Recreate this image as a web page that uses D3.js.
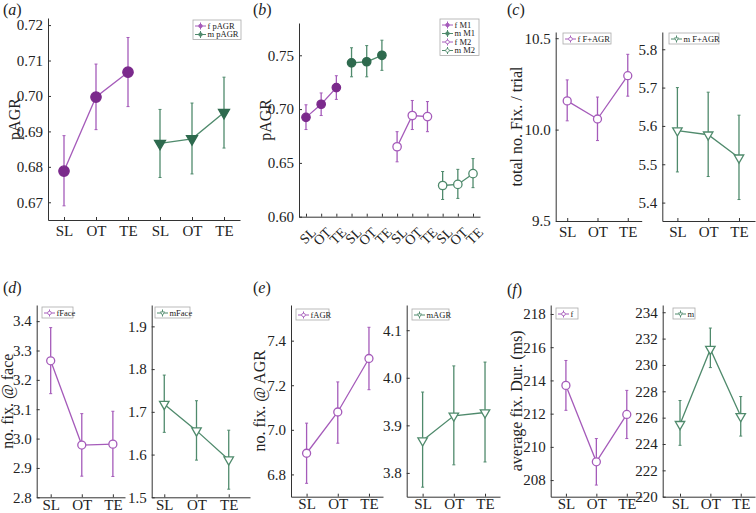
<!DOCTYPE html>
<html><head><meta charset="utf-8">
<script src="https://cdn.jsdelivr.net/npm/d3@7"></script>
<style>
body{margin:0;background:#fff}
svg text{font-family:"Liberation Serif","Times New Roman",Times,serif;fill:#222}
</style></head>
<body><svg id="c" width="756" height="513"></svg>
<script>
// ---------- DATA ----------
const conds = ["SL","OT","TE"];
// (a) pAGR
const aF_mean=[0.6788,0.6997,0.7067], aF_lo=[0.669,0.6905,0.697], aF_hi=[0.6888,0.709,0.7165];
const aM_mean=[0.6866,0.6879,0.6953], aM_lo=[0.677,0.678,0.6853], aM_hi=[0.6962,0.698,0.7053];
// (b) pAGR by M1/M2
const bF1_mean=[0.6923,0.7045,0.720], bF1_lo=[0.681,0.694,0.709], bF1_hi=[0.704,0.715,0.731];
const bM1_mean=[0.743,0.744,0.750], bM1_lo=[0.730,0.730,0.736], bM1_hi=[0.757,0.759,0.764];
const bF2_mean=[0.665,0.694,0.693], bF2_lo=[0.651,0.681,0.679], bF2_hi=[0.679,0.708,0.707];
const bM2_mean=[0.629,0.630,0.640], bM2_lo=[0.616,0.617,0.627], bM2_hi=[0.642,0.644,0.654];
// (c) total no. Fix. / trial
const cF_mean=[10.157,10.058,10.295], cF_lo=[10.048,9.94,10.183], cF_hi=[10.272,10.178,10.412];
const cM_mean=[5.588,5.577,5.517], cM_lo=[5.48,5.468,5.408], cM_hi=[5.70,5.688,5.628];
// (d) no. fix. @ face
const dF_mean=[3.265,2.978,2.981], dF_lo=[3.153,2.872,2.871], dF_hi=[3.378,3.085,3.093];
const dM_mean=[1.718,1.656,1.588], dM_lo=[1.652,1.587,1.519], dM_hi=[1.786,1.726,1.657];
// (e) no. fix. @ AGR
const eF_mean=[6.895,7.08,7.32], eF_lo=[6.76,6.94,7.18], eF_hi=[7.03,7.215,7.46];
const eM_mean=[3.868,3.92,3.927], eM_lo=[3.77,3.817,3.823], eM_hi=[3.97,4.025,4.033];
// (f) average fix. Dur. (ms)
const fF_mean=[213.7,209.1,211.95], fF_lo=[212.2,207.7,210.5], fF_hi=[215.2,210.5,213.4];
const fM_mean=[225.5,231.2,226.1], fM_lo=[223.9,229.8,224.6], fM_hi=[227.3,232.8,227.6];
// tick values
const ticksA=[0.67,0.68,0.69,0.70,0.71,0.72];
const ticksB=[0.60,0.65,0.70,0.75];
const ticksCF=[9.5,10.0,10.5], ticksCM=[5.4,5.5,5.6,5.7,5.8];
const ticksDF=[2.8,2.9,3.0,3.1,3.2,3.3,3.4], ticksDM=[1.5,1.6,1.7,1.8,1.9];
const ticksEF=[6.8,7.0,7.2,7.4], ticksEM=[3.8,3.9,4.0,4.1];
const ticksFF=[208,210,212,214,216,218], ticksFM=[220,222,224,226,228,230,232,234];

// ---------- STYLE ----------
const FONT='"Liberation Serif","Times New Roman",Times,serif';
const PUR="#7b2a8c", PURL="#a55bba", GRN="#2e6a4e", GRNL="#4f8a6c", AX="#333";
const svg=d3.select("#c");

function panel(o){
  const g=svg.append("g");
  const x=d3.scaleLinear().domain(o.xd).range([o.L,o.R]);
  const y=d3.scaleLinear().domain(o.yd).range([o.B,o.T]);
  const ya=g.append("g").attr("transform",`translate(${o.L},0)`)
    .call(d3.axisLeft(y).tickValues(o.yt).tickFormat(d3.format(o.fmt)).tickSizeInner(-3).tickSizeOuter(0).tickPadding(5));
  const xa=g.append("g").attr("transform",`translate(0,${o.B})`)
    .call(d3.axisBottom(x).tickValues(o.xt).tickFormat((d,i)=>o.xl[i]).tickSizeInner(-3).tickSizeOuter(0).tickPadding(o.xp));
  [ya,xa].forEach(a=>{a.attr("font-family",FONT);a.selectAll("path,line").attr("stroke",AX);a.selectAll("text").attr("font-size",15).attr("fill","#222").style("font-family",FONT);});
  if(o.rot){xa.selectAll("text").attr("font-size",14).attr("text-anchor","end").attr("x",0).attr("y",0).attr("dy","0.75em").attr("transform","translate(3,9) rotate(-45)");}
  if(o.ylab){
    g.append("text").attr("transform",`translate(${o.ylx},${(o.T+o.B)/2}) rotate(-90)`)
      .attr("text-anchor","middle").attr("font-size",16).style("font-family",FONT).text(o.ylab);
  }
  return {g,x,y};
}
function tri(cx,cy,w,h){return `M${cx-w/2},${cy-h/3}L${cx+w/2},${cy-h/3}L${cx},${cy+2*h/3}Z`;}
function series(p,xs,m,lo,hi,col,lcol,mk,filled,sz){
  const g=p.g.append("g");
  const line=d3.line().x((d,i)=>p.x(xs[i])).y(d=>p.y(d));
  g.append("path").attr("d",line(m)).attr("fill","none").attr("stroke",lcol).attr("stroke-width",1.3);
  m.forEach((v,i)=>{
    const X=p.x(xs[i]);
    g.append("line").attr("x1",X).attr("x2",X).attr("y1",p.y(lo[i])).attr("y2",p.y(hi[i])).attr("stroke",lcol).attr("stroke-width",1.3);
    [lo[i],hi[i]].forEach(e=>g.append("line").attr("x1",X-1.5).attr("x2",X+1.5).attr("y1",p.y(e)).attr("y2",p.y(e)).attr("stroke",lcol).attr("stroke-width",1));
  });
  m.forEach((v,i)=>{
    const X=p.x(xs[i]),Y=p.y(v);
    if(mk==="c") g.append("circle").attr("cx",X).attr("cy",Y).attr("r",sz)
      .attr("fill",filled?col:"#fff").attr("stroke",filled?col:lcol).attr("stroke-width",1.3);
    else g.append("path").attr("d",tri(X,Y,sz*2.2,sz*1.9))
      .attr("fill",filled?col:"#fff").attr("stroke",filled?col:lcol).attr("stroke-width",1.3);
  });
}
function legend(x0,y0,w,items){
  const h=items.length*8.5+2.5;
  const g=svg.append("g");
  g.append("rect").attr("x",x0).attr("y",y0).attr("width",w).attr("height",h).attr("fill","#fff").attr("stroke","#aaa").attr("stroke-width",0.8);
  items.forEach((it,i)=>{
    const cy=y0+6+i*8.5;
    g.append("line").attr("x1",x0+2).attr("x2",x0+13).attr("y1",cy).attr("y2",cy).attr("stroke",it.c).attr("stroke-width",1);
    g.append("line").attr("x1",x0+7.5).attr("x2",x0+7.5).attr("y1",cy-3.5).attr("y2",cy+3.5).attr("stroke",it.c).attr("stroke-width",1);
    if(it.m==="c") g.append("circle").attr("cx",x0+7.5).attr("cy",cy).attr("r",1.8).attr("fill",it.f?it.c:"#fff").attr("stroke",it.c).attr("stroke-width",0.8);
    else g.append("path").attr("d",tri(x0+7.5,cy,4,3.5)).attr("fill",it.f?it.c:"#fff").attr("stroke",it.c).attr("stroke-width",0.8);
    g.append("text").attr("x",x0+14.5).attr("y",cy+2.8).attr("font-size",8.5).style("font-family",FONT).text(it.t);
  });
}
function plabel(x,y,l){
  const t=svg.append("text").attr("x",x).attr("y",y).attr("font-size",16).style("font-family",FONT);
  t.append("tspan").text("(");
  t.append("tspan").attr("font-style","italic").text(l);
  t.append("tspan").text(")");
}

// (a)
const pa=panel({L:48,R:240,T:18,B:220,xd:[0.5,6.5],yd:[0.665,0.722],yt:ticksA,fmt:".2f",xp:5,
  xt:[1,2,3,4,5,6],xl:conds.concat(conds),ylab:"pAGR",ylx:20});
series(pa,[1,2,3],aF_mean,aF_lo,aF_hi,PUR,PURL,"c",true,5.2);
series(pa,[4,5,6],aM_mean,aM_lo,aM_hi,GRN,GRNL,"t",true,5);
legend(193,20,48,[{t:"f pAGR",c:PURL,m:"c",f:true},{t:"m pAGR",c:GRNL,m:"c",f:true}]);
plabel(3,15,"a");

// (b)
const pb=panel({L:299,R:480,T:23,B:216.7,xd:[0.54,12.46],yd:[0.60,0.780],yt:ticksB,fmt:".2f",xp:3,
  xt:d3.range(1,13),xl:conds.concat(conds,conds,conds),rot:true,ylab:"pAGR",ylx:271});
series(pb,[1,2,3],bF1_mean,bF1_lo,bF1_hi,PUR,PURL,"c",true,4.2);
series(pb,[4,5,6],bM1_mean,bM1_lo,bM1_hi,GRN,GRNL,"c",true,4.2);
series(pb,[7,8,9],bF2_mean,bF2_lo,bF2_hi,PURL,PURL,"c",false,4.2);
series(pb,[10,11,12],bM2_mean,bM2_lo,bM2_hi,GRNL,GRNL,"c",false,4.2);
legend(440,19,39,[{t:"f M1",c:PURL,m:"c",f:true},{t:"m M1",c:GRNL,m:"c",f:true},{t:"f M2",c:PURL,m:"c",f:false},{t:"m M2",c:GRNL,m:"c",f:false}]);
plabel(253,15,"b");

// (c)
const pcF=panel({L:555.7,R:641.7,T:32,B:221,xd:[0.62,3.46],yd:[9.5,10.534],yt:ticksCF,fmt:".1f",xp:5,
  xt:[1,2,3],xl:conds,ylab:"total no. Fix. / trial",ylx:522});
series(pcF,[1,2,3],cF_mean,cF_lo,cF_hi,PURL,PURL,"c",false,4);
legend(563,33,48,[{t:"f F+AGR",c:PURL,m:"c",f:false}]);
const pcM=panel({L:662.3,R:755,T:32,B:221,xd:[0.51,3.52],yd:[5.352,5.845],yt:ticksCM,fmt:".1f",xp:5,
  xt:[1,2,3],xl:conds});
series(pcM,[1,2,3],cM_mean,cM_lo,cM_hi,GRNL,GRNL,"t",false,4.3);
legend(669,33,50,[{t:"m F+AGR",c:GRNL,m:"t",f:false}]);
plabel(507,15,"c");

// (d)
const pdF=panel({L:36.7,R:125,T:305,B:497.3,xd:[0.55,3.39],yd:[2.8,3.455],yt:ticksDF,fmt:".1f",xp:2,
  xt:[1,2,3],xl:conds,ylab:"no. fix. @ face",ylx:13});
series(pdF,[1,2,3],dF_mean,dF_lo,dF_hi,PURL,PURL,"c",false,4);
legend(42,307,31,[{t:"fFace",c:PURL,m:"c",f:false}]);
const pdM=panel({L:151.7,R:250,T:305,B:497.3,xd:[0.61,3.66],yd:[1.5,1.95],yt:ticksDM,fmt:".1f",xp:2,
  xt:[1,2,3],xl:conds});
series(pdM,[1,2,3],dM_mean,dM_lo,dM_hi,GRNL,GRNL,"t",false,4.3);
legend(155,307,35,[{t:"mFace",c:GRNL,m:"t",f:false}]);
plabel(3,293,"d");

// (e)
const peF=panel({L:291,R:383,T:305,B:496.7,xd:[0.5,3.45],yd:[6.70,7.56],yt:ticksEF,fmt:".1f",xp:2,
  xt:[1,2,3],xl:conds,ylab:"no. fix. @ AGR",ylx:265});
series(peF,[1,2,3],eF_mean,eF_lo,eF_hi,PURL,PURL,"c",false,4);
legend(296,309,33,[{t:"fAGR",c:PURL,m:"c",f:false}]);
const peM=panel({L:406.7,R:500,T:305,B:496.7,xd:[0.49,3.48],yd:[3.75,4.153],yt:ticksEM,fmt:".1f",xp:2,
  xt:[1,2,3],xl:conds});
series(peM,[1,2,3],eM_mean,eM_lo,eM_hi,GRNL,GRNL,"t",false,4.3);
legend(412,309,37,[{t:"mAGR",c:GRNL,m:"t",f:false}]);
plabel(253,293,"e");

// (f)
const pfF=panel({L:550.7,R:642,T:305,B:496.7,xd:[0.5,3.5],yd:[207,218.54],yt:ticksFF,fmt:"d",xp:2,
  xt:[1,2,3],xl:conds,ylab:"average fix. Dur. (ms)",ylx:522});
series(pfF,[1,2,3],fF_mean,fF_lo,fF_hi,PURL,PURL,"c",false,4);
legend(556,308,22,[{t:"f",c:PURL,m:"c",f:false}]);
const pfM=panel({L:662.7,R:755,T:305,B:496.7,xd:[0.43,3.47],yd:[220,234.55],yt:ticksFM,fmt:"d",xp:2,
  xt:[1,2,3],xl:conds});
series(pfM,[1,2,3],fM_mean,fM_lo,fM_hi,GRNL,GRNL,"t",false,4.3);
legend(673,308,22,[{t:"m",c:GRNL,m:"t",f:false}]);
plabel(507,295,"f");
</script></body></html>
